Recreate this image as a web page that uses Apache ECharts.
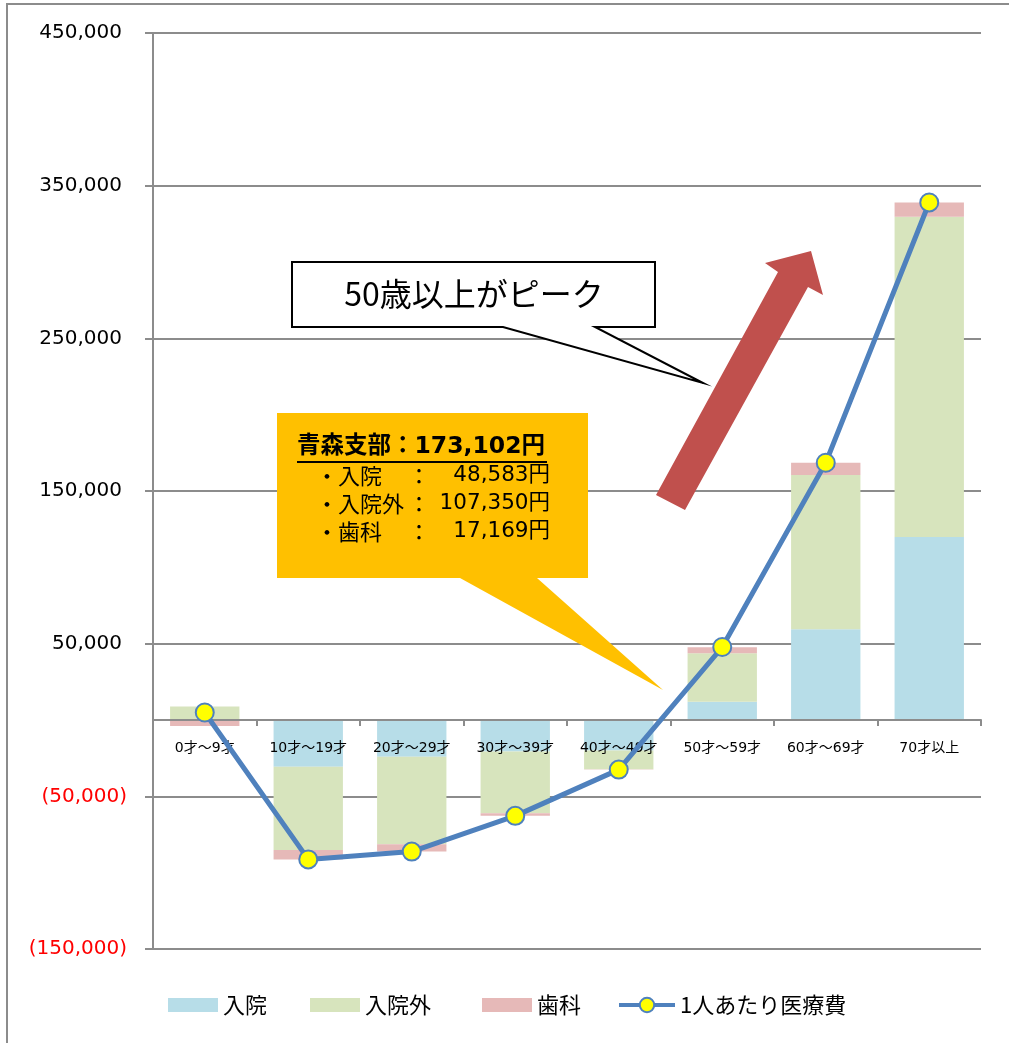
<!DOCTYPE html>
<html>
<head>
<meta charset="utf-8">
<script src="https://cdn.jsdelivr.net/npm/echarts@6/dist/echarts.min.js"></script>
<style>
  html, body { margin: 0; padding: 0; background: #fff; }
  #chart { width: 1009px; height: 1043px; }
</style>
</head>
<body>
<div id="chart"></div>
<script>
// 年齢階層別 1人あたり医療費（全体平均との差）
const categories = ['0才～9才', '10才～19才', '20才～29才', '30才～39才', '40才～49才', '50才～59才', '60才～69才', '70才以上'];
const inpatient  = [-400, -30600, -24000, -20700, -20000, 12000, 59400, 119800];   // 入院
const outpatient = [8800, -54600, -57400, -40400, -12200, 31700, 101000, 209800];  // 入院外
const dental     = [-3500, -6100, -4800, -1700, -300, 3900, 8100, 9400];           // 歯科
const perCapita  = [4900, -91300, -86200, -62800, -32500, 47800, 168500, 339000];  // 1人あたり医療費
const yTicks = { min: -150000, max: 450000, step: 100000 };

const latin = '"DejaVu Sans", "Noto Sans CJK JP", sans-serif';
const cjk = '"Noto Sans CJK JP", "DejaVu Sans", sans-serif';
const gridGray = '#8c8c8c';
const gridBox = { left: 153, right: 28, top: 33, bottom: 94 };

function withCommas(n) {
  return Math.abs(n).toString().replace(/\B(?=(\d{3})+(?!\d))/g, ',');
}
function fmt(v) {
  return v < 0 ? '{neg|(' + withCommas(v) + ')}' : '{pos|' + withCommas(v) + '}';
}

const chart = echarts.init(document.getElementById('chart'), null, { renderer: 'canvas' });

const legendBase = {
  top: 989,
  itemWidth: 50,
  itemHeight: 14,
  itemGap: 8,
  textStyle: { fontFamily: cjk, fontSize: 22, color: '#000' },
  selectedMode: false
};

chart.setOption({
  backgroundColor: '#fff',
  animation: false,
  grid: Object.assign({ containLabel: false }, gridBox),
  legend: [
    Object.assign({}, legendBase, { left: 163, data: [{ name: '入院', icon: 'rect' }] }),
    Object.assign({}, legendBase, { left: 305, data: [{ name: '入院外', icon: 'rect' }] }),
    Object.assign({}, legendBase, { left: 477, data: [{ name: '歯科', icon: 'rect' }] }),
    Object.assign({}, legendBase, {
      left: 612, itemWidth: 56, itemHeight: 18, itemGap: 4,
      data: [{ name: '1人あたり医療費', lineStyle: { width: 4, color: '#4f81bd' } }]
    })
  ],
  xAxis: {
    type: 'category',
    data: categories,
    boundaryGap: true,
    position: 'bottom',
    offset: 0,
    z: 3,
    axisLine: { onZero: false, lineStyle: { color: gridGray, width: 2 } },
    axisTick: { show: true, length: 6, lineStyle: { color: gridGray, width: 2 } },
    axisLabel: { interval: 0, margin: 21, fontFamily: latin, fontSize: 14, color: '#000' },
    splitLine: { show: false }
  },
  yAxis: {
    type: 'value',
    min: yTicks.min,
    max: yTicks.max,
    interval: yTicks.step,
    axisLine: { show: true, lineStyle: { color: gridGray, width: 2 } },
    axisTick: { show: true, length: 8, lineStyle: { color: gridGray, width: 2 } },
    axisLabel: {
      margin: 26,
      formatter: fmt,
      rich: {
        pos: { fontFamily: latin, fontSize: 20, color: '#000', padding: [0, 5, 0, 0] },
        neg: { fontFamily: latin, fontSize: 20, color: '#ff0000' }
      }
    },
    splitLine: { show: true, lineStyle: { color: gridGray, width: 2 } }
  },
  series: [
    {
      name: '入院', type: 'bar', stack: 'cost', data: inpatient,
      barCategoryGap: '33%',
      itemStyle: { color: '#b7dde8' }
    },
    {
      name: '入院外', type: 'bar', stack: 'cost', data: outpatient,
      itemStyle: { color: '#d7e4bd' }
    },
    {
      name: '歯科', type: 'bar', stack: 'cost', data: dental,
      itemStyle: { color: '#e6b9b8' }
    },
    {
      name: '1人あたり医療費', type: 'line', data: perCapita, z: 5,
      symbol: 'circle', symbolSize: 18,
      lineStyle: { color: '#4f81bd', width: 5 },
      itemStyle: { color: '#ffff00', borderColor: '#4f81bd', borderWidth: 2 }
    }
  ],
  graphic: [
    // outer frame
    { type: 'rect', z: 0, silent: true,
      shape: { x: 7, y: 4, width: 1040, height: 1080 },
      style: { fill: 'none', stroke: gridGray, lineWidth: 2 } },
    // orange callout
    { type: 'polygon', z: 10, silent: true,
      shape: { points: [[277, 413], [588, 413], [588, 578], [537, 578], [663, 690], [460, 578], [277, 578]] },
      style: { fill: '#ffc000' } },
    { type: 'text', z: 11, left: 297, top: 435, silent: true,
      style: { text: '青森支部：173,102円', font: 'bold 23.5px ' + latin, fill: '#000' } },
    { type: 'line', z: 11, silent: true,
      shape: { x1: 297, y1: 462, x2: 547, y2: 462 }, style: { stroke: '#000', lineWidth: 2 } },
    { type: 'text', z: 11, left: 316, top: 465, silent: true,
      style: { text: '・入院', font: '22px ' + cjk, fill: '#000' } },
    { type: 'text', z: 11, left: 408, top: 465, silent: true,
      style: { text: '：', font: '22px ' + cjk, fill: '#000' } },
    { type: 'text', z: 11, right: 459, top: 465, silent: true,
      style: { text: '48,583円', font: '21.5px ' + latin, fill: '#000' } },
    { type: 'text', z: 11, left: 316, top: 493, silent: true,
      style: { text: '・入院外', font: '22px ' + cjk, fill: '#000' } },
    { type: 'text', z: 11, left: 408, top: 493, silent: true,
      style: { text: '：', font: '22px ' + cjk, fill: '#000' } },
    { type: 'text', z: 11, right: 459, top: 493, silent: true,
      style: { text: '107,350円', font: '21.5px ' + latin, fill: '#000' } },
    { type: 'text', z: 11, left: 316, top: 521, silent: true,
      style: { text: '・歯科', font: '22px ' + cjk, fill: '#000' } },
    { type: 'text', z: 11, left: 408, top: 521, silent: true,
      style: { text: '：', font: '22px ' + cjk, fill: '#000' } },
    { type: 'text', z: 11, right: 459, top: 521, silent: true,
      style: { text: '17,169円', font: '21.5px ' + latin, fill: '#000' } },
    // red trend arrow
    { type: 'polygon', z: 10, silent: true,
      shape: { points: [[656, 495], [778, 272], [765, 263], [811, 251], [823, 295], [808, 287], [685, 510]] },
      style: { fill: '#c0504d' } },
    // speech balloon
    { type: 'polygon', z: 10, silent: true,
      shape: { points: [[292, 262], [655, 262], [655, 327], [595, 327], [703, 383], [503, 327], [292, 327]] },
      style: { fill: '#fff', stroke: '#000', lineWidth: 2 } },
    { type: 'text', z: 11, silent: true, x: 474, y: 294,
      style: { text: '50歳以上がピーク', font: '32px ' + cjk, fill: '#000', align: 'center', verticalAlign: 'middle' } }
  ]
});

// move the category axis (line, ticks and labels) up to the zero value
const zeroY = chart.convertToPixel({ yAxisIndex: 0 }, 0);
const bottomY = chart.getHeight() - gridBox.bottom;
chart.setOption({ xAxis: { offset: zeroY - bottomY } });
</script>
</body>
</html>
